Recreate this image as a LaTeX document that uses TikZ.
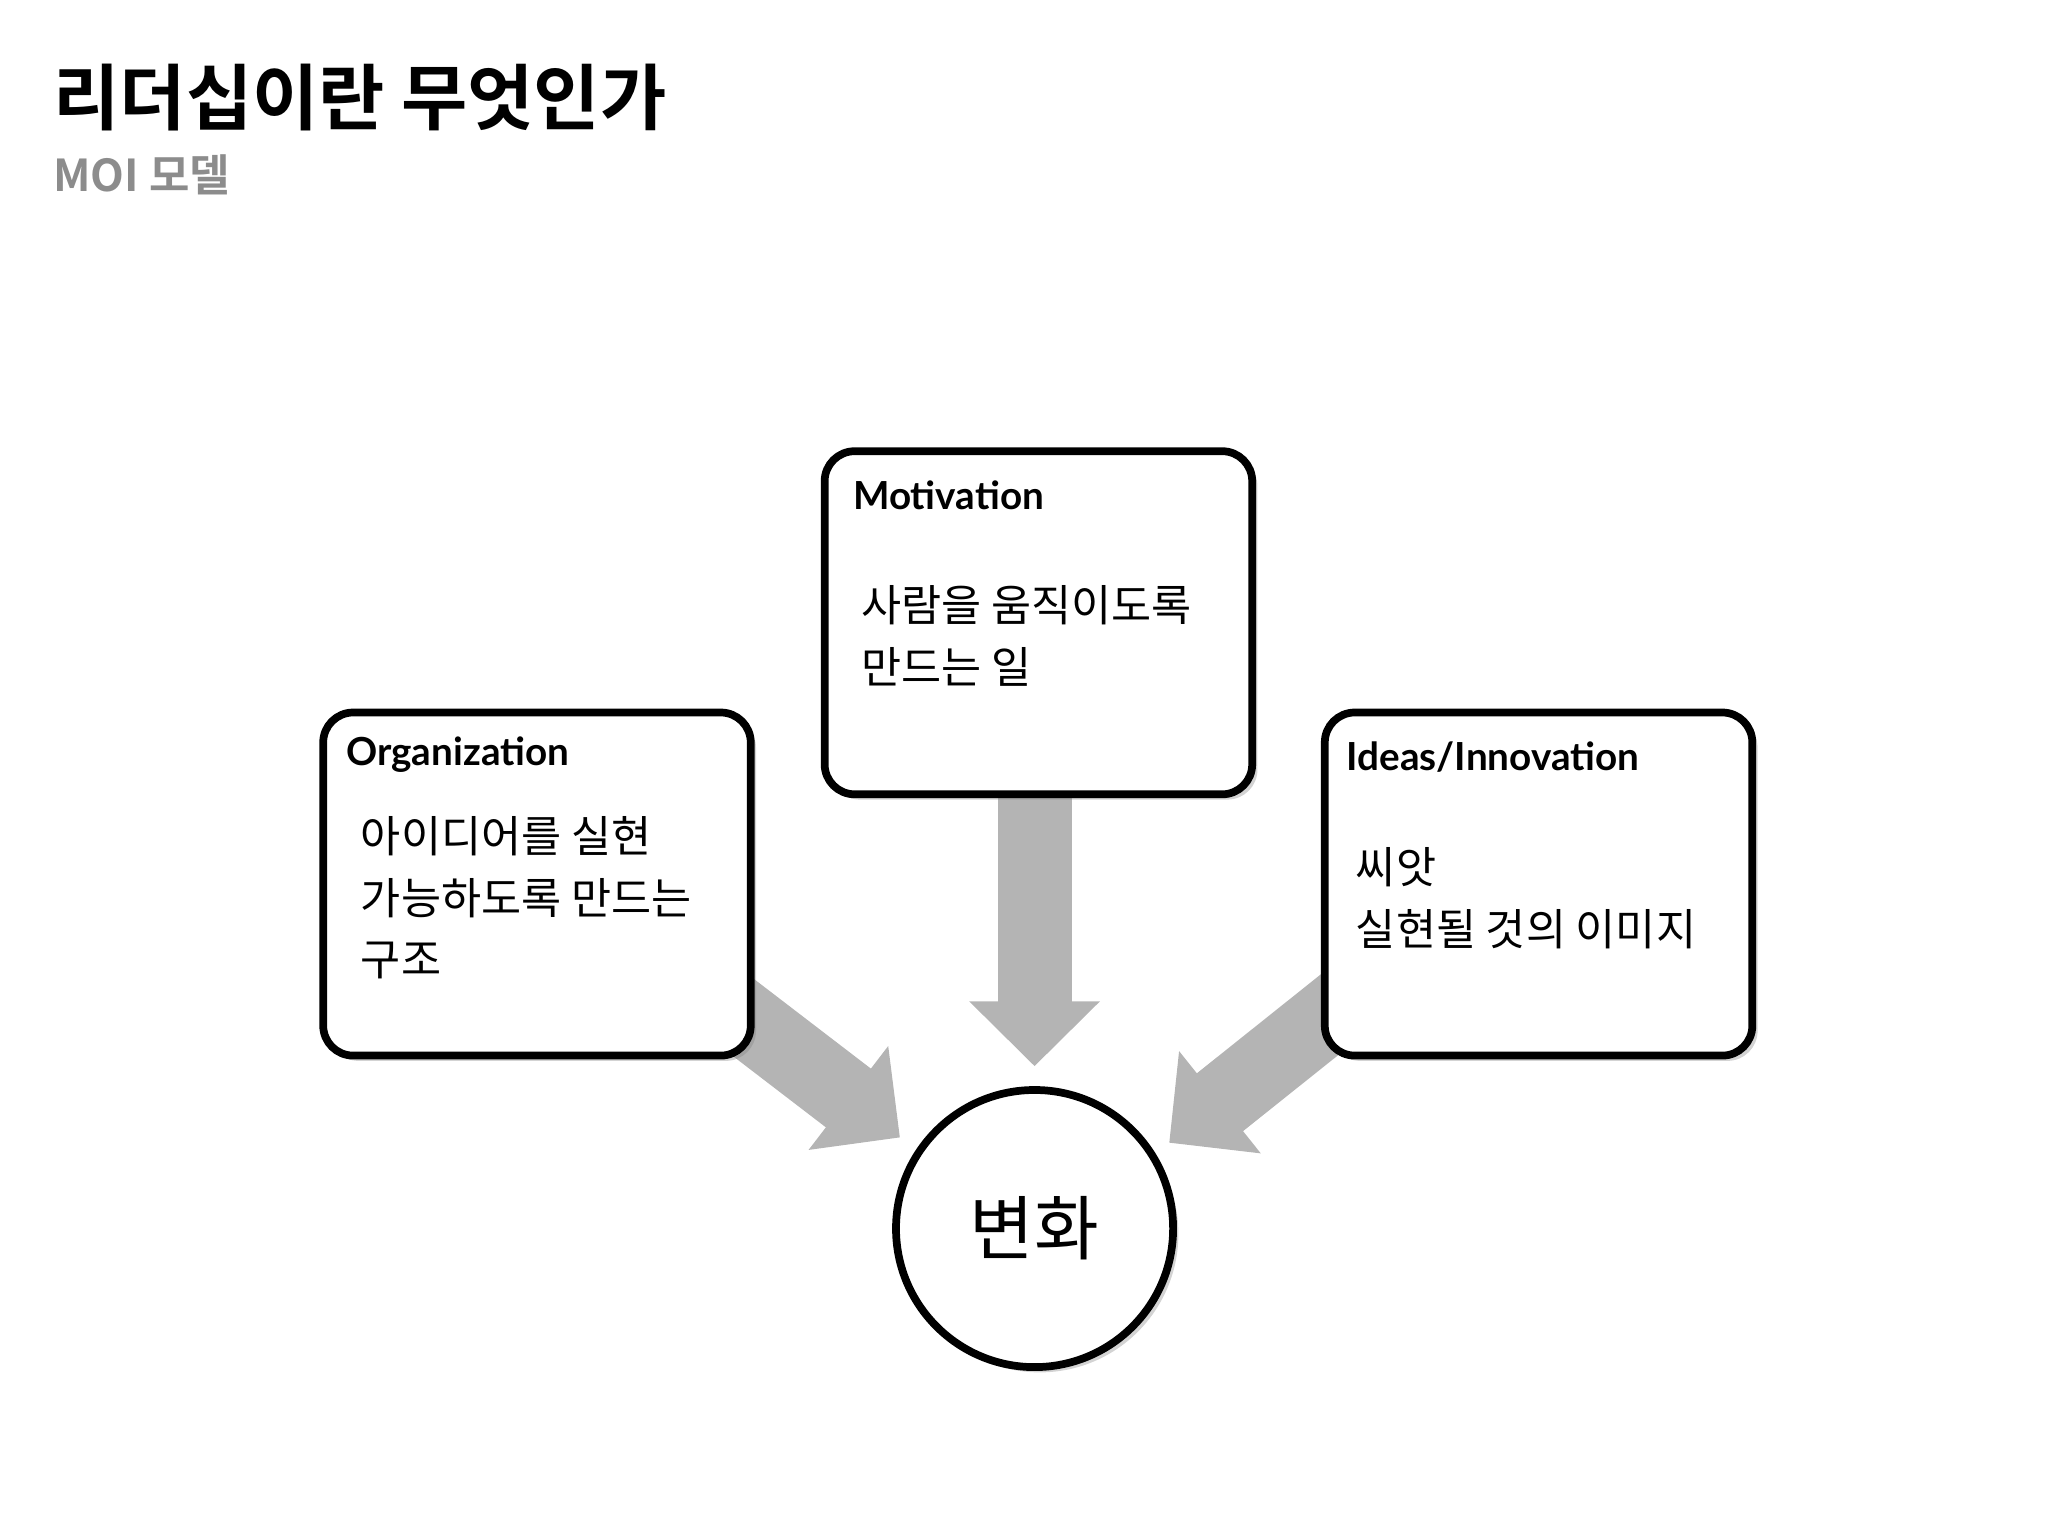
\documentclass[tikz,border=0pt]{standalone}
\usepackage{fontspec}
\setmainfont{Noto Sans CJK KR}
\newfontfamily\krbold{Noto Sans CJK KR}[BoldFont={* Bold}]
\newfontfamily\lab{Lato}
\usetikzlibrary{arrows.meta,shadows}
\definecolor{arrgray}{RGB}{180,180,180}
\begin{document}
\begin{tikzpicture}[x=0.0132cm,y=-0.0132cm,
  boxst/.style={draw=black,line width=2.2pt,rounded corners=0.3cm,fill=white,
    minimum width=324*0.0132cm,minimum height=260*0.0132cm,anchor=north west,
    drop shadow={opacity=0.35,shadow xshift=1.5pt,shadow yshift=-1.5pt}},
  labst/.style={anchor=west,font=\lab\bfseries\fontsize{11pt}{13pt}\selectfont,inner sep=0},
  bodyst/.style={anchor=north west,align=left,inner sep=0,font=\fontsize{12.4pt}{17.6pt}\selectfont},
  arr/.style={draw=arrgray,line width=0.74cm,-{Triangle[width=1.27cm,length=0.65cm]}}]
\useasboundingbox (0,0) rectangle (1552,1164);
% arrows
\coordinate (a1s) at (784,590); \coordinate (a1e) at (784,808);
\coordinate (a2s) at (545,757); \coordinate (a2e) at (682,862);
\coordinate (a3s) at (1025,755); \coordinate (a3e) at (886,866);
\draw[arr] (a1s) -- (a1e);
\draw[arr] (a2s) -- (a2e);
\draw[arr] (a3s) -- (a3e);
% title
\node[anchor=south west,inner sep=0,font=\krbold\bfseries\fontsize{20.5pt}{24pt}\selectfont] (title) at (40,100) {리더십이란 무엇인가};
\node[anchor=south west,inner sep=0,text=gray!90,font=\krbold\bfseries\fontsize{12.5pt}{15pt}\selectfont] (sub) at (40,148) {MOI 모델};
% boxes
\node[boxst] (mot) at (622,339) {};
\node[boxst] (org) at (242,537) {};
\node[boxst] (ide) at (1001,537) {};
\node[labst] (motl) at (646,375) {Motivation};
\node[labst] (orgl) at (262,572) {Organization};
\node[labst] (idel) at (1020,574) {Ideas/Innovation};
\node[bodyst] (motb) at (652,443) {사람을 움직이도록\\만드는 일};
\node[bodyst] (orgb) at (273,618) {아이디어를 실현\\가능하도록 만드는\\구조};
\node[bodyst] (ideb) at (1027,642) {씨앗\\실현될 것의 이미지};
% circle
\node[circle,draw=black,line width=2.2pt,fill=white,minimum size=210*0.0132cm,
  drop shadow={opacity=0.35,shadow xshift=1.5pt,shadow yshift=-1.5pt},
  font=\fontsize{20pt}{24pt}\selectfont] (chg) at (784,931) {변화};
\end{tikzpicture}
\end{document}
